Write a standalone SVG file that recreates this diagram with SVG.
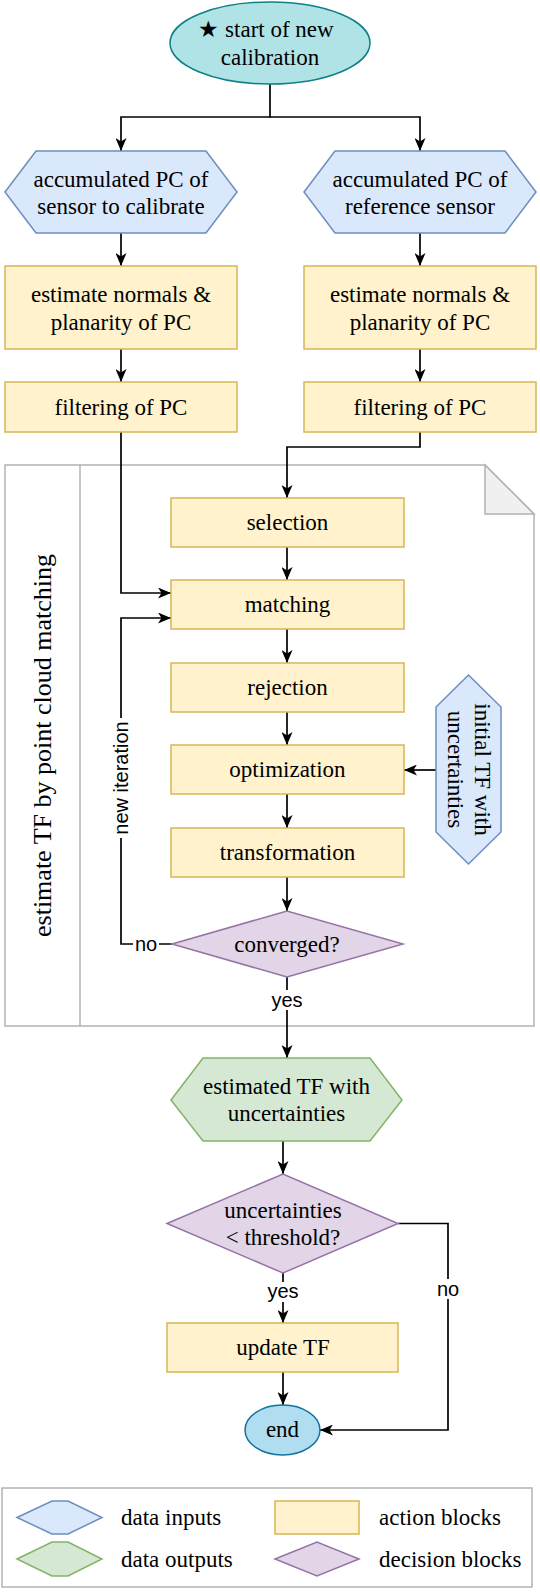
<svg xmlns="http://www.w3.org/2000/svg" width="540" height="1594" viewBox="0 0 540 1594">
<defs>
<marker id="arr" viewBox="0 0 13 11" refX="13" refY="5.5" markerWidth="13" markerHeight="11" orient="auto" markerUnits="userSpaceOnUse"><path d="M0,0 L13,5.5 L0,11 L3.5,5.5 z" fill="#000"/></marker>
</defs>
<style>
.t{font-family:"Liberation Serif","DejaVu Serif",serif;font-size:23px;fill:#000;text-anchor:middle}
.lt{font-family:"Liberation Serif","DejaVu Serif",serif;font-size:23px;fill:#000}
.s{font-family:"Liberation Sans","DejaVu Sans",sans-serif;font-size:20px;fill:#000;text-anchor:middle}
.in{fill:#dae8fc;stroke:#6c8ebf;stroke-width:1.5}
.act{fill:#fff2cc;stroke:#d6b656;stroke-width:1.5}
.dec{fill:#e1d5e7;stroke:#9673a6;stroke-width:1.5}
.out{fill:#d5e8d4;stroke:#82b366;stroke-width:1.5}
.gray{fill:#fff;stroke:#b3b3b3;stroke-width:1.5}
.ca{fill:none;stroke:#000;stroke-width:1.7;marker-end:url(#arr)}
.bg{fill:#fff}
</style>

<g id="container">
<path class="gray" d="M5,465 H485 L534,514 V1026 H5 Z"/>
<path d="M485,465 V514 H534 Z" fill="#f0f0f0" stroke="#b3b3b3" stroke-width="1.5"/>
<line x1="80" y1="465" x2="80" y2="1026" stroke="#b3b3b3" stroke-width="1.5"/>
<text class="t" style="font-size:26px" transform="translate(43,745.5) rotate(-90)" y="8">estimate TF by point cloud matching</text>
</g>

<g id="legend">
<rect class="gray" x="2" y="1488" width="530" height="99"/>
<polygon class="in" points="17,1517.5 52,1501 68,1501 102,1517.5 68,1534 52,1534"/>
<text class="lt" x="121" y="1525">data inputs</text>
<polygon class="out" points="17,1559 52,1542 68,1542 102,1559 68,1576 52,1576"/>
<text class="lt" x="121" y="1567">data outputs</text>
<rect class="act" x="275" y="1501" width="84" height="33"/>
<text class="lt" x="379" y="1525">action blocks</text>
<polygon class="dec" points="275,1559 317,1542 359,1559 317,1576"/>
<text class="lt" x="379" y="1567">decision blocks</text>
</g>

<g id="connectors">
<path class="ca" d="M270,84 V117 H121 V151"/>
<path class="ca" d="M270,117 H420 V151"/>
<path class="ca" d="M121,233 V266"/>
<path class="ca" d="M420,233 V266"/>
<path class="ca" d="M121,349 V382"/>
<path class="ca" d="M420,349 V382"/>
<path class="ca" d="M121,432 V593 H171"/>
<path class="ca" d="M420,432 V447 H287 V498"/>
<path class="ca" d="M287,547 V580"/>
<path class="ca" d="M287,629 V663"/>
<path class="ca" d="M287,712 V745"/>
<path class="ca" d="M287,794 V828"/>
<path class="ca" d="M287,877 V911"/>
<path class="ca" d="M436,770 H404"/>
<path class="ca" d="M172,944 H121 V618 H171"/>
<path class="ca" d="M287,977 V1058"/>
<path class="ca" d="M283,1141 V1174"/>
<path class="ca" d="M283,1273 V1323"/>
<path class="ca" d="M283,1372 V1405"/>
<path class="ca" d="M398,1223.5 H448 V1430 H320"/>
<g id="labels">
<rect class="bg" x="133" y="934" width="26" height="20"/>
<text class="s" x="146" y="951">no</text>
<rect class="bg" x="111" y="718" width="20" height="120"/>
<text class="s" transform="translate(121,778) rotate(-90)" y="7">new iteration</text>
<rect class="bg" x="270" y="990" width="34" height="20"/>
<text class="s" x="287" y="1007">yes</text>
<rect class="bg" x="266" y="1282" width="34" height="20"/>
<text class="s" x="283" y="1298">yes</text>
<rect class="bg" x="436" y="1279" width="25" height="20"/>
<text class="s" x="448" y="1296">no</text>
</g>
</g>

<g id="start">
<ellipse cx="270" cy="43" rx="100" ry="41" fill="#b0e3e6" stroke="#0e8088" stroke-width="1.5"/>
<text class="t" x="266" y="37">★ start of new</text>
<text class="t" x="270" y="65">calibration</text>
</g>

<g id="pc-sensor">
<polygon class="in" points="5,192 36,151 206,151 237,192 206,233 36,233"/>
<text class="t" x="121" y="187">accumulated PC of</text>
<text class="t" x="121" y="214">sensor to calibrate</text>
</g>
<g id="pc-reference">
<polygon class="in" points="304,192 335,151 505,151 536,192 505,233 335,233"/>
<text class="t" x="420" y="187">accumulated PC of</text>
<text class="t" x="420" y="214">reference sensor</text>
</g>

<g id="normals-left">
<rect class="act" x="5" y="266" width="232" height="83"/>
<text class="t" x="121" y="302">estimate normals &amp;</text>
<text class="t" x="121" y="330">planarity of PC</text>
</g>
<g id="normals-right">
<rect class="act" x="304" y="266" width="232" height="83"/>
<text class="t" x="420" y="302">estimate normals &amp;</text>
<text class="t" x="420" y="330">planarity of PC</text>
</g>
<g id="filter-left">
<rect class="act" x="5" y="382" width="232" height="50"/>
<text class="t" x="121" y="415">filtering of PC</text>
</g>
<g id="filter-right">
<rect class="act" x="304" y="382" width="232" height="50"/>
<text class="t" x="420" y="415">filtering of PC</text>
</g>

<g id="selection">
<rect class="act" x="171" y="498" width="233" height="49"/>
<text class="t" x="287.5" y="530">selection</text>
</g>
<g id="matching">
<rect class="act" x="171" y="580" width="233" height="49"/>
<text class="t" x="287.5" y="612">matching</text>
</g>
<g id="rejection">
<rect class="act" x="171" y="663" width="233" height="49"/>
<text class="t" x="287.5" y="695">rejection</text>
</g>
<g id="optimization">
<rect class="act" x="171" y="745" width="233" height="49"/>
<text class="t" x="287.5" y="777">optimization</text>
</g>
<g id="transformation">
<rect class="act" x="171" y="828" width="233" height="49"/>
<text class="t" x="287.5" y="860">transformation</text>
</g>
<g id="converged">
<polygon class="dec" points="172,944 287,911 403,944 287,977"/>
<text class="t" x="287" y="952">converged?</text>
</g>
<g id="initial-tf">
<polygon class="in" points="468.5,675 501,707 501,832 468.5,864 436,832 436,707"/>
<g transform="translate(468.5,769.5) rotate(90)">
<text class="t" y="-6">initial TF with</text>
<text class="t" y="21">uncertainties</text>
</g>
</g>

<g id="estimated-tf">
<polygon class="out" points="171,1100 203,1058 370,1058 402,1100 370,1141 203,1141"/>
<text class="t" x="286.5" y="1094">estimated TF with</text>
<text class="t" x="286.5" y="1121">uncertainties</text>
</g>
<g id="threshold">
<polygon class="dec" points="167,1223.5 283,1174 398,1223.5 283,1273"/>
<text class="t" x="283" y="1218">uncertainties</text>
<text class="t" x="283" y="1245">&lt; threshold?</text>
</g>
<g id="update-tf">
<rect class="act" x="167" y="1323" width="231" height="49"/>
<text class="t" x="283" y="1355">update TF</text>
</g>
<g id="end">
<ellipse cx="282.5" cy="1430" rx="37.5" ry="25" fill="#b1ddf0" stroke="#10739e" stroke-width="1.5"/>
<text class="t" x="282.5" y="1437">end</text>
</g>
</svg>
